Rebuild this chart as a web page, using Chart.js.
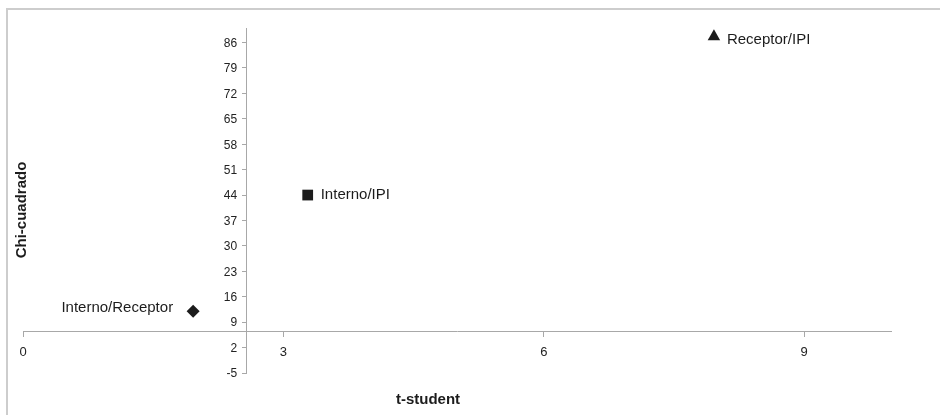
<!DOCTYPE html>
<html>
<head>
<meta charset="utf-8">
<script src="https://cdn.jsdelivr.net/npm/chart.js@4"></script>
<style>
  html, body { margin: 0; padding: 0; background: #fff; }
  #wrap { position: relative; width: 940px; height: 415px; }
  #frame { position: absolute; left: 6px; top: 8px; right: 0; bottom: 0;
           border-top: 2px solid #cdcdcd; border-left: 2px solid #cdcdcd; }
  canvas { position: absolute; left: 0; top: 0; }
</style>
</head>
<body>
<div id="wrap">
  <div id="frame"></div>
  <canvas id="scatter" width="940" height="415"></canvas>
</div>
<script>
var pointNames = ["Interno/Receptor", "Interno/IPI", "Receptor/IPI"];
var tStudent = [1.96, 3.28, 7.96];
var chiCuadrado = [12.0, 44.0, 87.65];
var xTicks = [0, 3, 6, 9];
var yTicks = [-5, 2, 9, 16, 23, 30, 37, 44, 51, 58, 65, 72, 79, 86];

// where the axes cross each other
var xAxisAtY = 6.5;
var yAxisAtX = 2.57;

var axisGrey = "#a8a8a8";
var ink = "#1c1c1c";
var fontFam = "'Liberation Sans', Arial, sans-serif";

var pointLabels = {
  id: "pointLabels",
  afterDatasetsDraw: function (chart, args, opts) {
    var ctx = chart.ctx;
    var meta = chart.getDatasetMeta(0);
    ctx.save();
    ctx.font = "15px " + fontFam;
    ctx.fillStyle = ink;
    ctx.textBaseline = "middle";
    meta.data.forEach(function (el, i) {
      var side = opts.side[i];
      ctx.textAlign = side === "left" ? "right" : "left";
      var dx = side === "left" ? -opts.gapLeft : opts.gapRight;
      ctx.fillText(pointNames[i], el.x + dx, el.y + opts.dy[i]);
    });
    ctx.restore();
  }
};

// y tick labels sit left of the crossing y axis
var yLabels = {
  id: "yLabels",
  afterDraw: function (chart) {
    var ctx = chart.ctx;
    var ys = chart.scales.y;
    var axisX = chart.scales.x.getPixelForValue(yAxisAtX);
    ctx.save();
    ctx.font = "12px " + fontFam;
    ctx.fillStyle = "#222";
    ctx.textAlign = "right";
    ctx.textBaseline = "middle";
    yTicks.forEach(function (v) {
      ctx.fillText(String(v), axisX - 9, ys.getPixelForValue(v) + 1);
    });
    ctx.restore();
  }
};

var axisTitles = {
  id: "axisTitles",
  afterDraw: function (chart) {
    var ctx = chart.ctx;
    ctx.save();
    ctx.font = "bold 15px " + fontFam;
    ctx.fillStyle = ink;
    ctx.textAlign = "center";
    ctx.textBaseline = "middle";
    ctx.fillText("t-student", 428, 400);
    ctx.translate(22, 210);
    ctx.rotate(-Math.PI / 2);
    ctx.fillText("Chi-cuadrado", 0, 0);
    ctx.restore();
  }
};

var ctx = document.getElementById("scatter").getContext("2d");
var scatter = new Chart(ctx, {
  type: "scatter",
  data: {
    labels: pointNames,
    datasets: [
      {
        label: "Chi-cuadrado / t-student",
        data: tStudent.map(function (x, i) { return { x: x, y: chiCuadrado[i] }; }),
        pointStyle: ["rectRot", "rect", "triangle"],
        pointRadius: [6.5, 7.6, 7.2],
        backgroundColor: ink,
        borderColor: ink,
        borderWidth: 0,
      },
    ],
  },
  options: {
    responsive: false,
    animation: false,
    layout: { padding: { left: 23, top: 28, right: 49, bottom: 42 } },
    plugins: {
      legend: { display: false },
      tooltip: { enabled: false },
      pointLabels: { side: ["left", "right", "right"], gapLeft: 20, gapRight: 13, dy: [-3, 0, 3] },
    },
    scales: {
      x: {
        type: "linear",
        min: 0,
        max: 10,
        position: { y: xAxisAtY },
        afterBuildTicks: function (axis) {
          axis.ticks = xTicks.map(function (v) { return { value: v }; });
        },
        grid: { drawOnChartArea: false, drawTicks: true, tickLength: 5, color: axisGrey },
        border: { display: true, color: axisGrey, width: 1 },
        ticks: {
          padding: 8,
          color: "#222",
          font: { family: fontFam, size: 13 },
        },
      },
      y: {
        type: "linear",
        min: -5,
        max: 90,
        position: { x: yAxisAtX },
        afterBuildTicks: function (axis) {
          axis.ticks = yTicks.map(function (v) { return { value: v }; });
        },
        grid: { drawOnChartArea: false, drawTicks: true, tickLength: 4, color: axisGrey },
        border: { display: true, color: axisGrey, width: 1 },
        ticks: { display: false },
      },
    },
  },
  plugins: [pointLabels, yLabels, axisTitles],
});
</script>
</body>
</html>
